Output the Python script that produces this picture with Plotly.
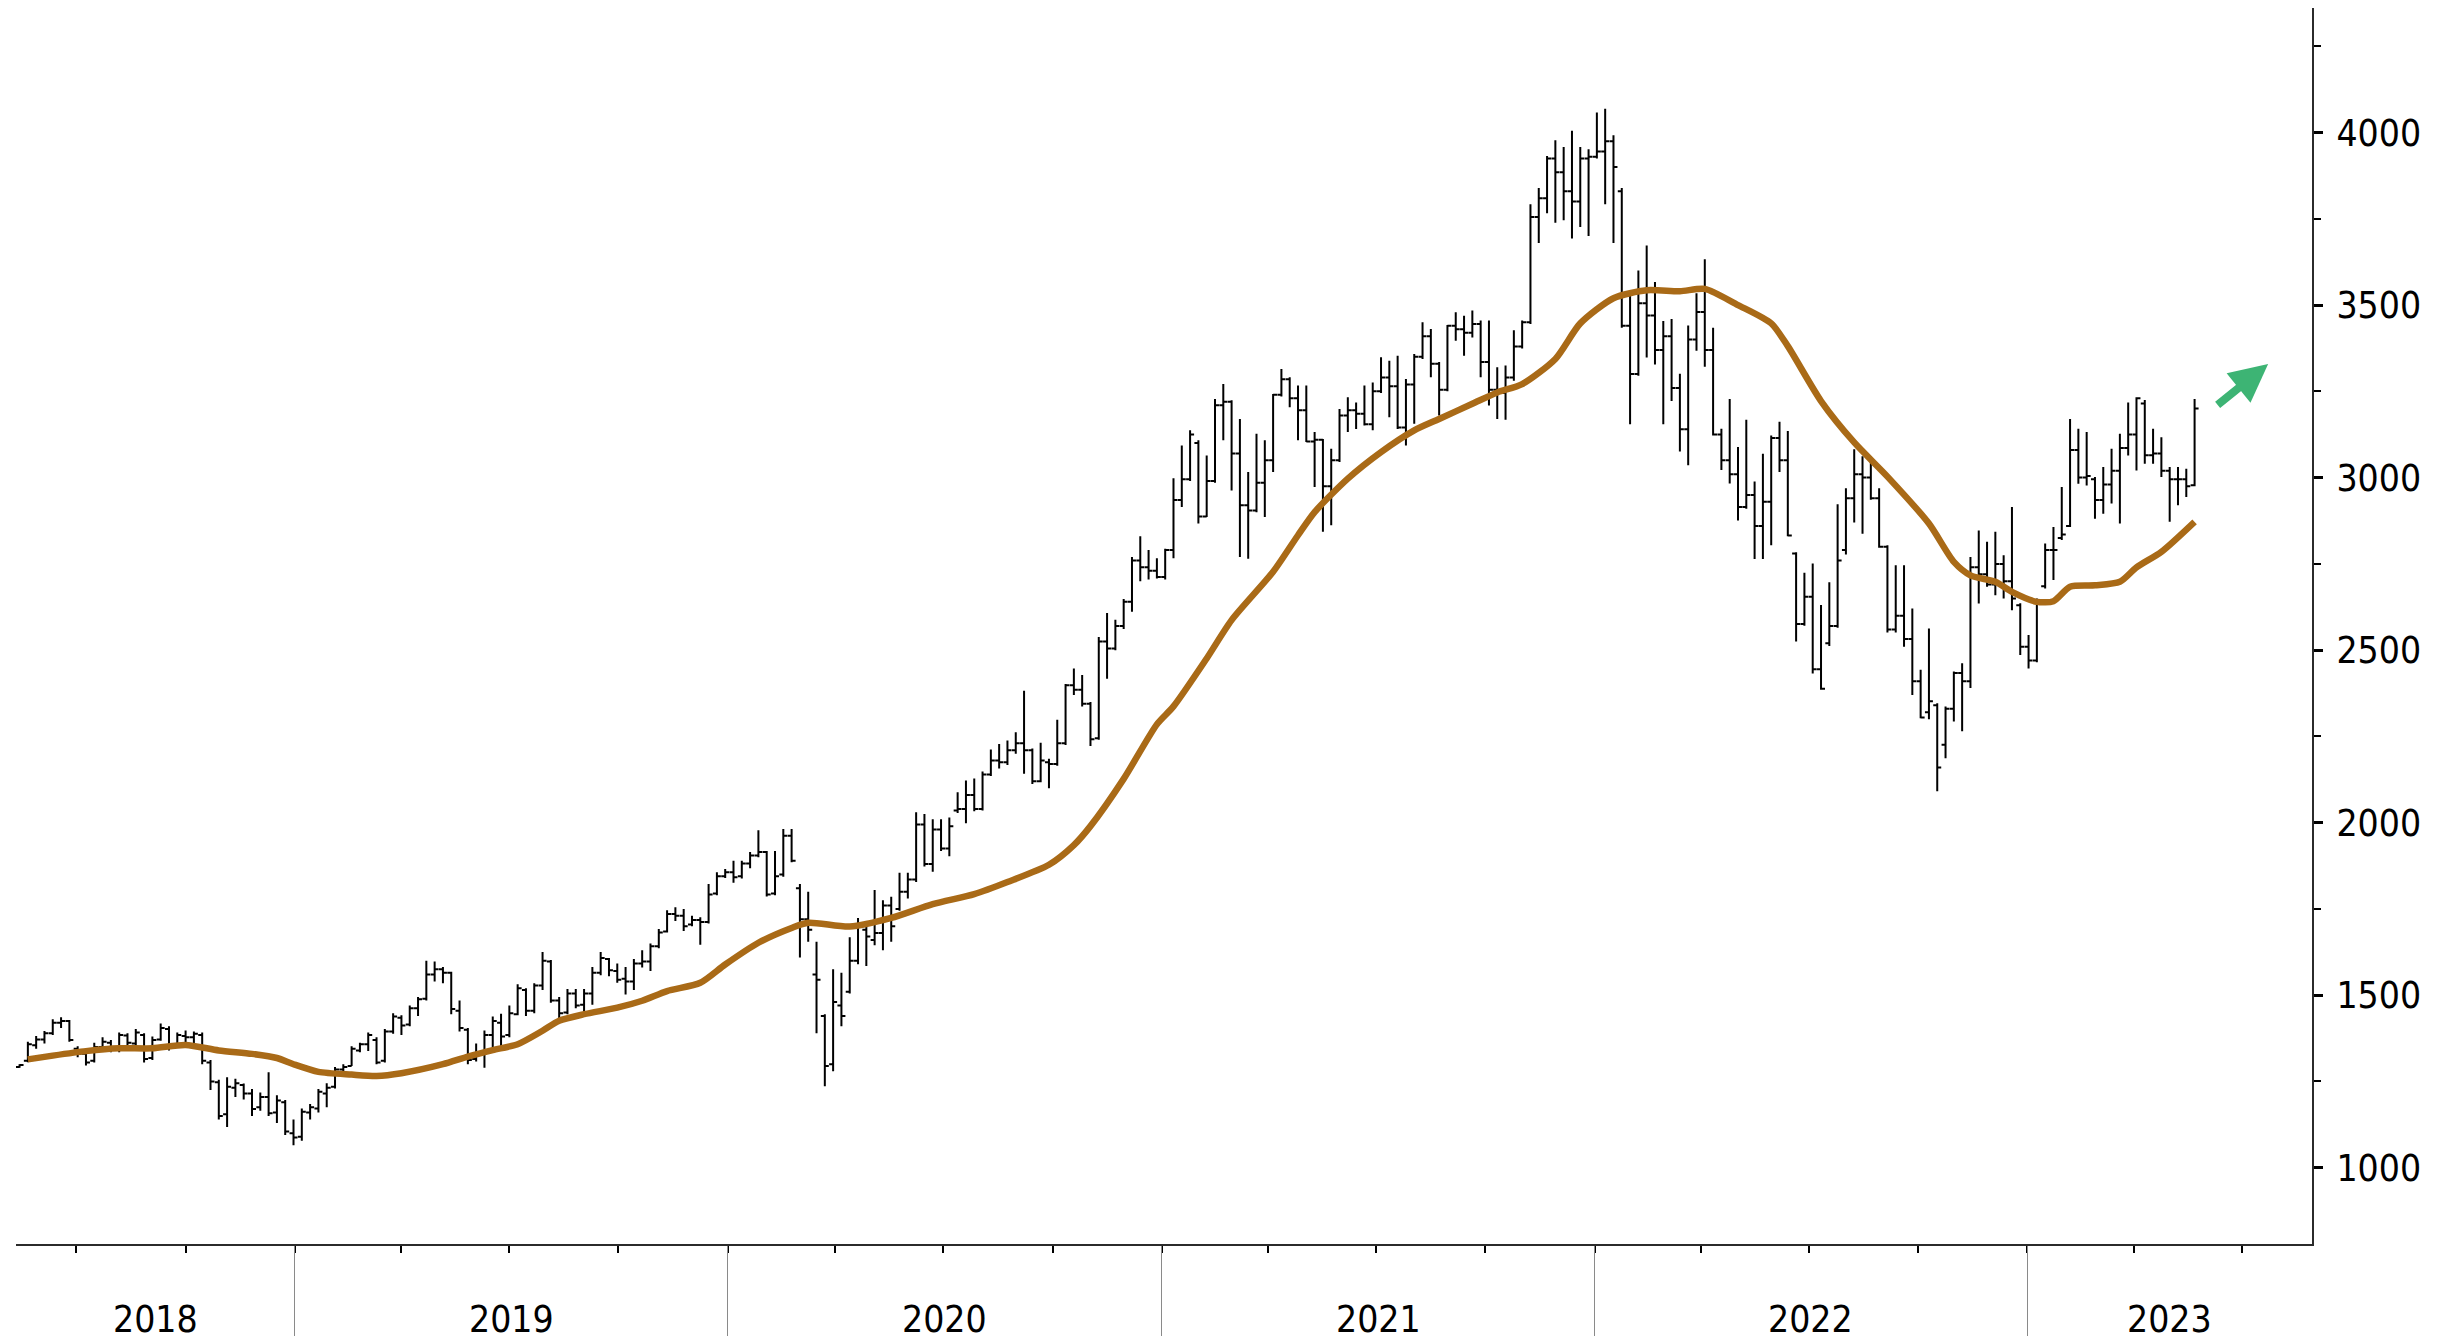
import plotly.graph_objects as go
import pandas as pd

# ---------------- data (weekly bars) ----------------
first_week = "2018-05-14"

opens = [
    1292, 1310, 1355, 1372, 1390, 1420, 1425, 1345, 1330, 1310,
    1350, 1362, 1345, 1383, 1360, 1385, 1318, 1372, 1402, 1358,
    1382, 1378, 1385, 1305, 1248, 1155, 1232, 1240, 1215, 1175,
    1205, 1160, 1190, 1100, 1090, 1160, 1172, 1215, 1235, 1285,
    1295, 1340, 1358, 1370, 1310, 1395, 1435, 1415, 1462, 1490,
    1560, 1575, 1565, 1455, 1400, 1315, 1330, 1385, 1420, 1385,
    1445, 1515, 1455, 1528, 1598, 1485, 1450, 1505, 1472, 1505,
    1565, 1605, 1570, 1548, 1540, 1592, 1598, 1642, 1685, 1735,
    1730, 1705, 1718, 1712, 1795, 1845, 1856, 1845, 1882, 1905,
    1915, 1795, 1850, 1962, 1810, 1720, 1560, 1440, 1300, 1470,
    1510, 1600, 1690, 1660, 1680, 1760, 1750, 1800, 1835, 1995,
    1880, 1980, 1925, 2035, 2040, 2080, 2040, 2140, 2180, 2175,
    2210, 2230, 2210, 2120, 2175, 2170, 2230, 2398, 2385, 2345,
    2245, 2525, 2505, 2570, 2640, 2760, 2740, 2730, 2712, 2790,
    2935, 2995, 3100, 2887, 2990, 3210, 3220, 3070, 2920, 2905,
    2985, 3050, 3240, 3285, 3230, 3195, 3105, 3110, 2975, 3050,
    3180, 3195, 3185, 3155, 3250, 3290, 3265, 3145, 3270, 3350,
    3410, 3330, 3255, 3440, 3430, 3420, 3445, 3335, 3255, 3245,
    3290, 3380, 3450, 3755, 3810, 3925, 3885, 3830, 3800, 3925,
    3930, 3945, 3975, 3830, 3440, 3300, 3505, 3470, 3370, 3410,
    3260, 3140, 3400, 3480, 3370, 3125, 3050, 3010, 2915, 2950,
    2860, 2930, 3115, 3050, 2780, 2576, 2655, 2445, 2520, 2570,
    2790, 2940, 3010, 3000, 2940, 2800, 2560, 2600, 2532, 2410,
    2320, 2340, 2226, 2330, 2434, 2410, 2740, 2720, 2690, 2750,
    2700, 2630, 2510, 2470, 2685, 2790, 2825, 2860, 3080, 3000,
    2995, 2935, 2980, 3020, 3086, 3125, 3215, 3065, 3070, 3020,
    2995, 2995, 2978,
]

highs = [
    1300, 1365, 1382, 1396, 1430, 1436, 1428, 1352, 1345, 1362,
    1378, 1370, 1392, 1390, 1402, 1390, 1380, 1418, 1410, 1392,
    1398, 1395, 1392, 1312, 1255, 1262, 1258, 1244, 1228, 1218,
    1277, 1210, 1196, 1140, 1172, 1185, 1228, 1245, 1292, 1300,
    1352, 1362, 1392, 1378, 1402, 1448, 1442, 1470, 1495, 1600,
    1598, 1582, 1568, 1485, 1405, 1360, 1398, 1438, 1446, 1470,
    1532, 1520, 1535, 1625, 1602, 1495, 1518, 1518, 1518, 1582,
    1625, 1608, 1592, 1582, 1605, 1630, 1650, 1692, 1746, 1755,
    1750, 1730, 1726, 1822, 1856, 1866, 1890, 1890, 1915, 1978,
    1918, 1918, 1982, 1982, 1822, 1800, 1655, 1445, 1575, 1565,
    1668, 1724, 1705, 1805, 1775, 1785, 1855, 1855, 2030, 2025,
    2010, 2010, 2015, 2088, 2122, 2128, 2148, 2212, 2228, 2238,
    2262, 2382, 2215, 2232, 2185, 2298, 2402, 2447, 2428, 2350,
    2538, 2608, 2588, 2648, 2770, 2830, 2790, 2766, 2794, 2998,
    3093, 3137, 3108, 3064, 3228, 3271, 3224, 3170, 3016, 3127,
    3108, 3242, 3315, 3291, 3267, 3267, 3132, 3112, 3084, 3199,
    3233, 3218, 3267, 3276, 3349, 3339, 3353, 3286, 3358, 3450,
    3431, 3335, 3442, 3479, 3469, 3484, 3455, 3455, 3320, 3325,
    3427, 3455, 3792, 3839, 3932, 3978, 3958, 4005, 3958, 3952,
    4058, 4069, 3992, 3839, 3540, 3600, 3673, 3567, 3454, 3460,
    3301, 3441, 3534, 3633, 3434, 3142, 3228, 3089, 3168, 2989,
    3069, 3122, 3162, 3135, 2784, 2724, 2751, 2631, 2697, 2923,
    2969, 3082, 3062, 3062, 2969, 2804, 2746, 2746, 2621, 2443,
    2563, 2346, 2337, 2438, 2462, 2770, 2847, 2814, 2843, 2775,
    2915, 2636, 2544, 2650, 2809, 2857, 2973, 3170, 3142, 3132,
    3002, 3031, 3084, 3127, 3218, 3233, 3225, 3142, 3117, 3031,
    3031, 3026, 3228,
]

lows = [
    1290, 1306, 1345, 1360, 1385, 1405, 1365, 1320, 1296, 1305,
    1340, 1335, 1335, 1352, 1345, 1305, 1312, 1368, 1340, 1350,
    1362, 1360, 1300, 1225, 1140, 1118, 1205, 1198, 1150, 1165,
    1150, 1130, 1095, 1065, 1078, 1140, 1160, 1175, 1230, 1275,
    1295, 1335, 1338, 1300, 1305, 1388, 1385, 1410, 1440, 1485,
    1540, 1535, 1445, 1395, 1300, 1308, 1290, 1350, 1352, 1378,
    1442, 1440, 1448, 1515, 1478, 1425, 1445, 1462, 1445, 1472,
    1558, 1555, 1536, 1502, 1515, 1580, 1570, 1636, 1682, 1715,
    1686, 1700, 1646, 1708, 1790, 1840, 1826, 1838, 1868, 1900,
    1786, 1790, 1843, 1885, 1609, 1655, 1390, 1236, 1280, 1410,
    1505, 1590, 1585, 1645, 1630, 1655, 1745, 1780, 1828, 1873,
    1858, 1918, 1903, 2028, 1998, 2033, 2035, 2135, 2157, 2167,
    2200, 2142, 2112, 2117, 2100, 2165, 2225, 2370, 2337, 2222,
    2240, 2417, 2500, 2561, 2611, 2700, 2705, 2708, 2705, 2766,
    2915, 2990, 2867, 2886, 2985, 3108, 2963, 2770, 2765, 2900,
    2886, 3016, 3235, 3204, 3108, 3103, 2973, 2843, 2862, 3045,
    3132, 3141, 3151, 3137, 3245, 3175, 3141, 3093, 3156, 3344,
    3291, 3180, 3250, 3397, 3353, 3406, 3291, 3209, 3170, 3168,
    3281, 3374, 3445, 3680, 3766, 3739, 3746, 3693, 3726, 3700,
    3925, 3792, 3680, 3434, 3155, 3295, 3348, 3328, 3155, 3222,
    3076, 3036, 3368, 3321, 3122, 3022, 2983, 2876, 2910, 2764,
    2764, 2804, 3016, 2830, 2525, 2571, 2432, 2385, 2512, 2565,
    2777, 2870, 2837, 2936, 2797, 2551, 2551, 2510, 2370, 2303,
    2300, 2091, 2187, 2293, 2265, 2390, 2635, 2684, 2659, 2650,
    2616, 2486, 2447, 2465, 2679, 2703, 2819, 2857, 2982, 2977,
    2881, 2895, 2925, 2867, 3064, 3021, 3040, 3040, 3002, 2872,
    2920, 2944, 2975,
]

closes = [
    1298, 1358, 1372, 1390, 1420, 1425, 1370, 1330, 1305, 1350,
    1365, 1345, 1385, 1362, 1392, 1315, 1370, 1405, 1355, 1385,
    1378, 1388, 1310, 1250, 1150, 1235, 1245, 1215, 1170, 1205,
    1158, 1195, 1105, 1088, 1162, 1175, 1220, 1232, 1285, 1292,
    1345, 1358, 1385, 1305, 1395, 1438, 1412, 1462, 1488, 1560,
    1575, 1565, 1460, 1405, 1312, 1330, 1385, 1425, 1380, 1448,
    1520, 1455, 1528, 1600, 1485, 1448, 1505, 1470, 1505, 1565,
    1608, 1572, 1545, 1540, 1592, 1598, 1642, 1682, 1735, 1730,
    1700, 1718, 1712, 1792, 1845, 1856, 1842, 1882, 1905, 1915,
    1792, 1845, 1962, 1890, 1720, 1690, 1545, 1295, 1480, 1440,
    1600, 1700, 1670, 1680, 1760, 1700, 1800, 1835, 1995, 1880,
    1980, 1925, 1990, 2040, 2080, 2040, 2140, 2180, 2175, 2210,
    2230, 2210, 2120, 2180, 2170, 2230, 2398, 2385, 2345, 2242,
    2525, 2505, 2570, 2640, 2760, 2740, 2730, 2712, 2790, 2935,
    2995, 3125, 2887, 2990, 3210, 3220, 3070, 2920, 2905, 2985,
    3050, 3240, 3285, 3230, 3195, 3105, 3110, 2975, 3050, 3180,
    3195, 3185, 3155, 3250, 3290, 3265, 3145, 3270, 3350, 3410,
    3330, 3255, 3440, 3430, 3420, 3445, 3335, 3255, 3245, 3290,
    3380, 3450, 3755, 3810, 3925, 3885, 3830, 3800, 3925, 3930,
    3945, 3975, 3900, 3440, 3300, 3505, 3470, 3370, 3410, 3260,
    3140, 3400, 3480, 3370, 3125, 3050, 3010, 2915, 2950, 2860,
    2930, 3115, 3050, 2832, 2576, 2655, 2445, 2388, 2570, 2760,
    2940, 3010, 3000, 2940, 2800, 2560, 2600, 2532, 2410, 2305,
    2352, 2160, 2330, 2434, 2410, 2740, 2720, 2690, 2750, 2700,
    2650, 2510, 2470, 2645, 2790, 2790, 2835, 3080, 3000, 3005,
    2935, 2980, 3020, 3086, 3125, 3230, 3065, 3070, 3020, 2995,
    2995, 2975, 3200,
]

# moving average (brown line), read at selected weeks (week number from first bar)
ma_week = [1, 4, 8, 12, 16, 20, 24, 28, 31, 33, 36, 40, 43, 46, 51, 54, 57, 60,
           63, 65, 68, 72, 75, 78, 82, 85, 89, 93, 95, 100, 105, 110, 115, 119,
           124, 127, 129, 133, 137, 139, 143, 146, 151, 154, 156, 160, 164, 168,
           171, 175, 178, 181, 185, 188, 192, 196, 200, 203, 207, 211, 213, 217,
           221, 225, 230, 233, 235, 238, 240, 243, 245, 247, 250, 253, 255, 258, 262]
ma_val = [1314, 1325, 1338, 1346, 1346, 1356, 1340, 1330, 1318, 1300, 1278, 1270,
          1266, 1274, 1300, 1322, 1341, 1358, 1397, 1426, 1445, 1464, 1484, 1512,
          1536, 1589, 1652, 1695, 1710, 1699, 1724, 1764, 1793, 1828, 1878, 1935,
          1990, 2127, 2285, 2337, 2476, 2587, 2727, 2833, 2900, 2997, 3074, 3137,
          3170, 3214, 3247, 3271, 3344, 3447, 3520, 3543, 3540, 3547, 3500, 3447,
          3381, 3222, 3102, 3003, 2867, 2756, 2717, 2698, 2669, 2640, 2642, 2684,
          2688, 2698, 2740, 2785, 2872]

year_labels = ["2018", "2019", "2020", "2021", "2022", "2023"]
y_tick_values = [1000, 1500, 2000, 2500, 3000, 3500, 4000]
y_minor_values = [1250, 1750, 2250, 2750, 3250, 3750, 4250]

x_start, x_end = "2018-05-11", "2023-08-29"
y_low, y_high = 779, 4361

FONT = "DejaVu Sans Condensed, DejaVu Sans"

# ---------------- figure ----------------
n = min(len(opens), len(highs), len(lows), len(closes))
start = pd.Timestamp(first_week)
dates = [start + pd.Timedelta(days=7 * i) for i in range(n)]
ma_dates = [start + pd.Timedelta(days=7 * w) for w in ma_week]

fig = go.Figure()
fig.add_trace(go.Ohlc(
    x=dates, open=opens[:n], high=highs[:n], low=lows[:n], close=closes[:n],
    increasing=dict(line=dict(color="black", width=2)),
    decreasing=dict(line=dict(color="black", width=2)),
    tickwidth=0.48, showlegend=False, hoverinfo="skip",
))
fig.add_trace(go.Scatter(
    x=ma_dates, y=ma_val, mode="lines",
    line=dict(color="#A96A17", width=6.5, shape="spline", smoothing=0.7),
    showlegend=False, hoverinfo="skip",
))

# year boundaries and label positions
t0, t1 = pd.Timestamp(x_start), pd.Timestamp(x_end)
bounds = [pd.Timestamp(f"{y}-01-01") for y in year_labels[1:]]
edges = [t0] + bounds + [t1]
annotations = []
for k, lab in enumerate(year_labels):
    mid = edges[k] + (edges[k + 1] - edges[k]) / 2
    annotations.append(dict(
        x=mid, y=-0.061, xref="x", yref="paper", text=lab, showarrow=False,
        xanchor="center", yanchor="middle",
        font=dict(family=FONT, size=37, color="black"),
    ))

# green up arrow
annotations.append(dict(
    x=pd.Timestamp("2023-07-23"), y=3329, xref="x", yref="y",
    ax=-52, ay=42, text="", showarrow=True,
    arrowhead=2, arrowsize=0.95, arrowwidth=8, arrowcolor="#3DB474", standoff=0,
))

fig.update_layout(
    width=2450, height=1342,
    margin=dict(l=16, r=138, t=8, b=82),
    paper_bgcolor="white", plot_bgcolor="white",
    hovermode=False,
    annotations=annotations,
    font=dict(family=FONT, color="black"),
)
fig.update_xaxes(
    type="date", range=[x_start, x_end], rangeslider=dict(visible=False),
    showgrid=False, zeroline=False,
    showline=True, linecolor="#2b2b2b", linewidth=2,
    tickmode="array", tickvals=bounds, showticklabels=False,
    ticks="outside", ticklen=90, tickcolor="#8a8a8a", tickwidth=1.3,
    minor=dict(tickmode="linear", tick0="2018-01-01", dtick="M3",
               ticks="outside", ticklen=7, tickcolor="black", tickwidth=1.5,
               showgrid=False),
)
fig.update_yaxes(
    side="right", range=[y_low, y_high],
    showgrid=False, zeroline=False,
    showline=True, linecolor="#2b2b2b", linewidth=2,
    tickmode="array", tickvals=y_tick_values,
    ticks="outside", ticklen=9, tickwidth=3, tickcolor="black",
    tickfont=dict(family=FONT, size=37, color="black"),
    ticklabelstandoff=6,
    minor=dict(tickmode="array", tickvals=y_minor_values, ticks="outside",
               ticklen=7, tickwidth=1.5, tickcolor="black", showgrid=False),
)

fig.write_html(
    "out.html",
    config={"displayModeBar": False},
    post_script="document.body.style.margin='0px';document.body.style.overflow='hidden';",
)
